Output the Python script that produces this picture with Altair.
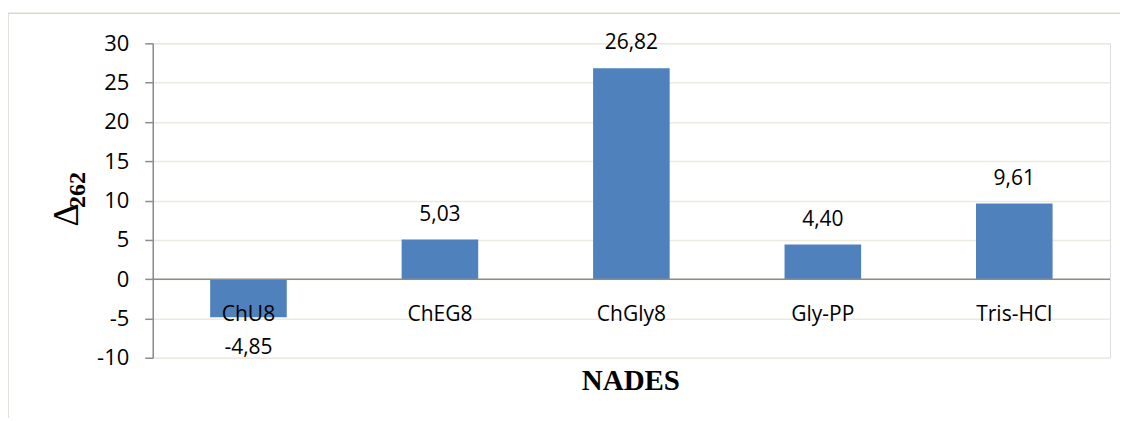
import altair as alt
import pandas as pd

categories = ["ChU8", "ChEG8", "ChGly8", "Gly-PP", "Tris-HCl"]
values = [-4.85, 5.03, 26.82, 4.40, 9.61]
value_labels = ["-4,85", "5,03", "26,82", "4,40", "9,61"]
y_ticks = [-10, -5, 0, 5, 10, 15, 20, 25, 30]

df = pd.DataFrame({"cat": categories, "val": values, "lab": value_labels})

W, H = 959, 315
FONT = "Open Sans"

xs = alt.Scale(domain=categories, paddingInner=0.6, paddingOuter=0.3)
ys = alt.Scale(domain=[-10, 30], nice=False, zero=False)

base = alt.Chart(df)

bars = base.mark_bar(color="#4F81BD").encode(
    x=alt.X("cat:N", scale=xs, axis=None, sort=categories),
    y=alt.Y("val:Q", scale=ys, axis=alt.Axis(
        values=y_ticks, tickCount=9, labelOverlap=False, title=None, grid=True,
        gridColor="#ECE9DF", gridWidth=1.5,
        domainColor="#8C8C8C", domainWidth=1.5, tickColor="#8C8C8C", tickWidth=1.5,
        tickSize=8, labelPadding=16, labelFont=FONT, labelFontSize=22,
        labelExpr="toString(datum.value)", labelColor="#000000")),
    y2=alt.datum(0),
)

zero = alt.Chart(pd.DataFrame({"z": [0]})).mark_rule(color="#8C8C8C", strokeWidth=1.5).encode(
    y=alt.Y("z:Q", scale=ys)
)

pos_labels = base.transform_filter("datum.val >= 0").mark_text(
    font=FONT, fontSize=21, baseline="alphabetic", dy=-19, color="#000000"
).encode(x=alt.X("cat:N", scale=xs, sort=categories), y=alt.Y("val:Q", scale=ys), text="lab:N")

neg_labels = base.transform_filter("datum.val < 0").mark_text(
    font=FONT, fontSize=21, baseline="alphabetic", dy=37, color="#000000"
).encode(x=alt.X("cat:N", scale=xs, sort=categories), y=alt.Y("val:Q", scale=ys), text="lab:N")

cat_labels = base.mark_text(
    font=FONT, fontSize=21, baseline="alphabetic", dy=42, color="#000000"
).encode(x=alt.X("cat:N", scale=xs, sort=categories), y=alt.datum(0), text="cat:N")

frame = alt.Chart(pd.DataFrame({"a": [0]})).mark_rect(
    fill=None, stroke="#D9D9D0", strokeWidth=1.5
).encode(x=alt.value(-145), x2=alt.value(1100), y=alt.value(-30), y2=alt.value(500))

x_title = alt.Chart(pd.DataFrame({"t": ["NADES"]})).mark_text(
    font="Liberation Serif", fontSize=29, fontWeight="bold", color="#000000", baseline="alphabetic"
).encode(x=alt.value(479), y=alt.value(347), text="t:N")

delta = alt.Chart(pd.DataFrame({"t": ["Δ"]})).mark_text(
    font="Liberation Serif", fontSize=36, color="#000000", angle=270, baseline="alphabetic"
).encode(x=alt.value(-75), y=alt.value(172), text="t:N")

sub = alt.Chart(pd.DataFrame({"t": ["262"]})).mark_text(
    font="Liberation Serif", fontSize=24, fontWeight="bold", color="#000000", angle=270,
    baseline="alphabetic"
).encode(x=alt.value(-68), y=alt.value(147), text="t:N")

chart = alt.layer(frame, bars, zero, pos_labels, neg_labels, cat_labels, x_title, delta, sub).properties(
    width=W, height=H,
    autosize=alt.AutoSizeParams(type="none"),
    padding={"left": 145, "top": 35, "right": 10, "bottom": 60},
).configure_view(stroke=None).configure(background="white")

chart.save("out.html", embed_options={"renderer": "svg", "actions": False})
